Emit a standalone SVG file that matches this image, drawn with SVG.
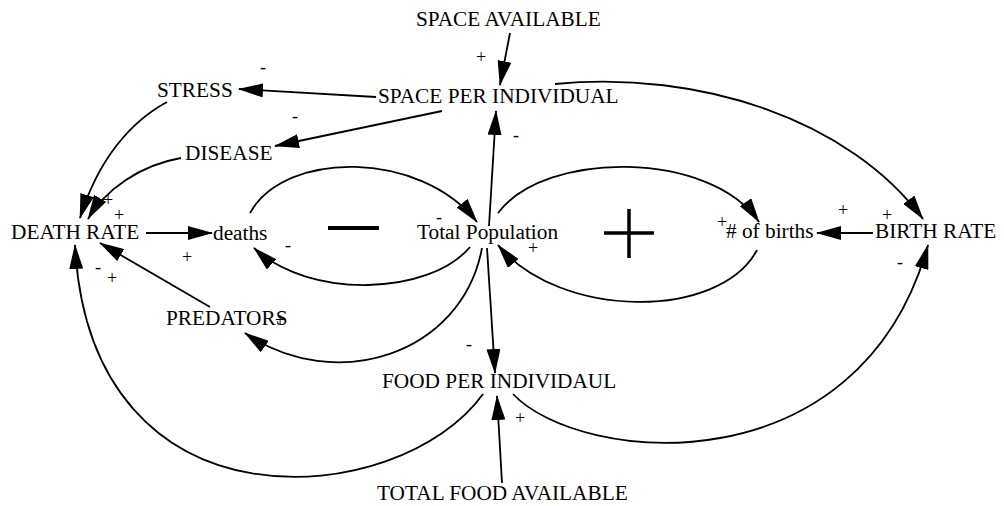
<svg xmlns="http://www.w3.org/2000/svg" width="1004" height="506" viewBox="0 0 1004 506">
<defs>
<marker id="ah" viewBox="0 0 25 14" refX="24" refY="7" markerWidth="25" markerHeight="14" orient="auto" markerUnits="userSpaceOnUse">
<path d="M0,0 L25,7 L0,14 z" fill="#000"/>
</marker>
</defs>
<rect width="1004" height="506" fill="#fff"/>
<g id="connectors" fill="none" stroke="#000" stroke-width="1.8" marker-end="url(#ah)">
<path d="M510,33 L500,85"/>
<path d="M376,97 L239,89"/>
<path d="M442,111 L275,146"/>
<path d="M489,226 L496,111"/>
<path d="M555,84 C700,70 850,120 923,219"/>
<path d="M167,102 C130,122 98,160 80,218"/>
<path d="M181,158 C140,165 105,190 88,219"/>
<path d="M146,233 L212,233"/>
<path d="M250,213 C285,150 420,150 477,222"/>
<path d="M470,247 C430,295 310,300 254,248"/>
<path d="M498,213 C545,150 710,150 759,222"/>
<path d="M757,250 C720,320 560,320 498,245"/>
<path d="M873,233 L817,233"/>
<path d="M482,248 C462,355 335,395 245,333"/>
<path d="M210,307 L100,243"/>
<path d="M487,248 L495,373"/>
<path d="M483,394 C400,510 90,540 75,245"/>
<path d="M513,394 C580,465 860,490 928,245"/>
<path d="M502,483 L497,396"/>
</g>
<g id="loop-symbols" stroke="#000" fill="none">
<path d="M328,228 L379,228" stroke-width="4"/>
<path d="M604,233 L654,233 M629,209 L629,258" stroke-width="3.5"/>
</g>
<g font-family="Liberation Serif" font-size="21.3" fill="#000">
<g id="node-space-available"><text x="416" y="26">SPACE AVAILABLE</text></g>
<g id="node-stress"><text x="157" y="97">STRESS</text></g>
<g id="node-space-per-individual"><text x="378" y="103">SPACE PER INDIVIDUAL</text></g>
<g id="node-disease"><text x="185" y="160">DISEASE</text></g>
<g id="node-death-rate"><text x="11" y="239">DEATH RATE</text></g>
<g id="node-deaths"><text x="213" y="240">deaths</text></g>
<g id="node-total-population"><text x="417" y="239">Total Population</text></g>
<g id="node-births"><text x="726" y="238">#&#160;of births</text></g>
<g id="node-birth-rate"><text x="875" y="238">BIRTH RATE</text></g>
<g id="node-predators"><text x="166" y="325">PREDATORS</text></g>
<g id="node-food-per-individual"><text x="382" y="388">FOOD PER INDIVIDAUL</text></g>
<g id="node-total-food-available"><text x="377" y="500">TOTAL FOOD AVAILABLE</text></g>
</g>
<g id="polarities" font-family="Liberation Serif" font-size="18" text-anchor="middle" fill="#000">
<text x="263" y="73">-</text>
<text x="481" y="63">+</text>
<text x="295" y="122">-</text>
<text x="516" y="141">-</text>
<text x="108" y="206">+</text>
<text x="119" y="221">+</text>
<text x="187" y="263">+</text>
<text x="288" y="251">-</text>
<text x="439" y="223">-</text>
<text x="533" y="254">+</text>
<text x="722" y="228">+</text>
<text x="843" y="216">+</text>
<text x="887" y="221">+</text>
<text x="900" y="268">-</text>
<text x="98" y="273">-</text>
<text x="112" y="284">+</text>
<text x="280" y="326">+</text>
<text x="469" y="350">-</text>
<text x="520" y="424">+</text>
</g>
</svg>
